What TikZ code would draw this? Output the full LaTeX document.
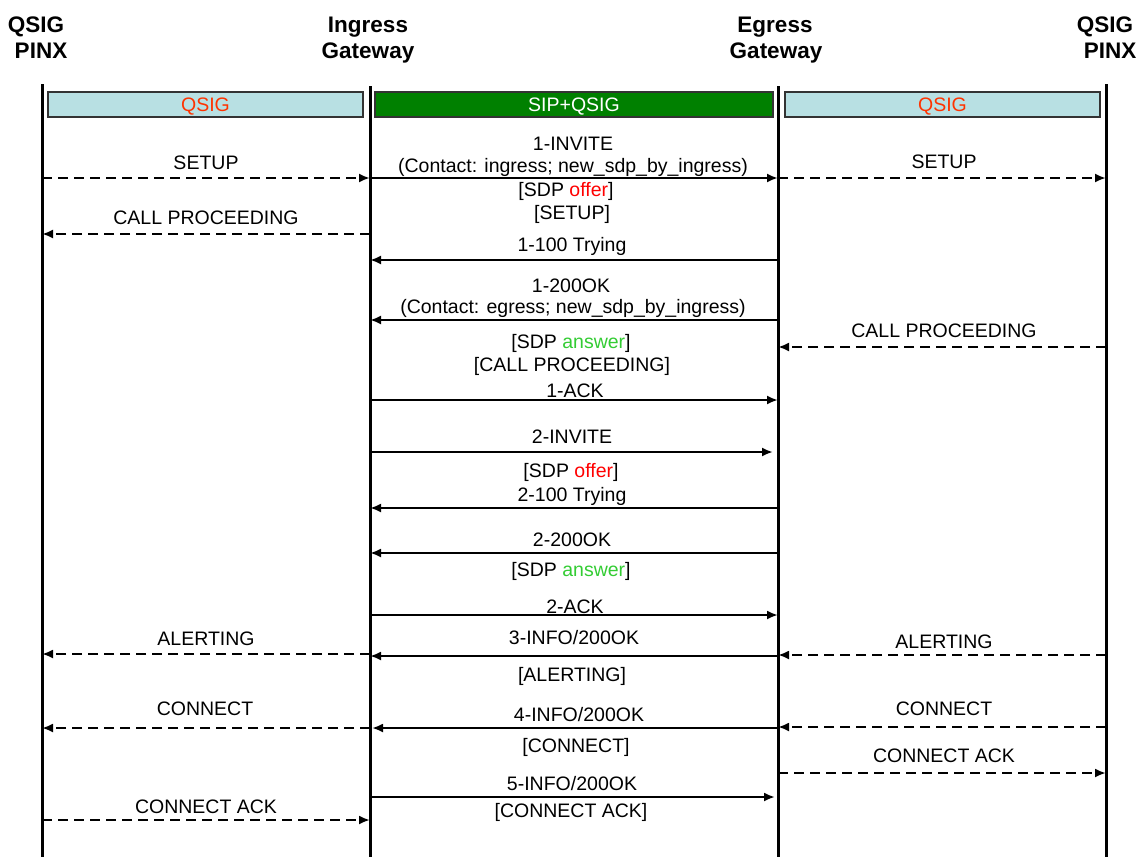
\documentclass[tikz,border=0pt]{standalone}
\usepackage{fontspec}
\setmainfont{Liberation Sans}
\usetikzlibrary{arrows.meta}
\definecolor{qsigbox}{HTML}{B8E0E3}
\definecolor{qsigtxt}{HTML}{FF3300}
\definecolor{sipbox}{HTML}{008000}
\definecolor{offer}{HTML}{FF0000}
\definecolor{answer}{HTML}{33CC33}
\tikzset{
  life/.style={line width=3pt},
  msg/.style={line width=2.6pt,-{Latex[length=11pt,width=9pt]}},
  sig/.style={msg,dash pattern=on 10pt off 6pt},
  lbl/.style={font=\fontsize{19.5}{23}\selectfont,inner sep=0pt,anchor=base},
  head/.style={font=\fontsize{22.5}{26}\selectfont\bfseries,inner sep=0pt,anchor=base},
  band/.style={draw=black!80,line width=1.4pt,minimum height=25pt,inner sep=0pt,text height=14pt,text depth=0pt,font=\fontsize{19.5}{23}\selectfont}
}
\begin{document}
\begin{tikzpicture}[x=1pt,y=-1pt]
\useasboundingbox (0,0) rectangle (1140,857);
\node[head] (pinxLa) at (36,32) {QSIG};
\node[head] (pinxLb) at (41,58) {PINX};
\node[head] (ingwa) at (368,32) {Ingress};
\node[head] (ingwb) at (368,58) {Gateway};
\node[head] (egwa) at (775,32) {Egress};
\node[head] (egwb) at (776,58) {Gateway};
\node[head] (pinxRa) at (1105,32) {QSIG};
\node[head] (pinxRb) at (1110,58) {PINX};
\coordinate (pinxL) at (42,84);
\coordinate (ingw) at (370,86);
\coordinate (egw) at (778,86);
\coordinate (pinxR) at (1106,84);
\draw[life] (pinxL) -- (pinxL |- 0,857);
\draw[life] (ingw) -- (ingw |- 0,857);
\draw[life] (egw) -- (egw |- 0,857);
\draw[life] (pinxR) -- (pinxR |- 0,857);
\node[band,fill=qsigbox,text=qsigtxt,minimum width=315pt] (bandL) at (205.5,104.5) {QSIG};
\node[band,fill=sipbox,text=white,minimum width=398pt] (bandM) at (574,104.5) {SIP+QSIG};
\node[band,fill=qsigbox,text=qsigtxt,minimum width=315pt] (bandR) at (942.5,104.5) {QSIG};
\node[lbl] (setupL) at (206,169) {SETUP};
\draw[sig] (pinxL |- 0,178) -- (ingw |- 0,178);
\node[lbl] (invA) at (573,150) {1-INVITE};
\node[lbl] (invB) at (573,172) {(Contact: ingress; new\_sdp\_by\_ingress)};
\node[lbl] (invC) at (566,196) {[SDP \textcolor{offer}{offer}]};
\node[lbl] (invD) at (572,219) {[SETUP]};
\draw[msg] (ingw |- 0,178) -- (egw |- 0,178);
\node[lbl] (setupR) at (944,168) {SETUP};
\draw[sig] (egw |- 0,178) -- (pinxR |- 0,178);
\node[lbl] (procL) at (206,224) {CALL PROCEEDING};
\draw[sig] (ingw |- 0,234) -- (pinxL |- 0,234);
\node[lbl] (tryA) at (572,251) {1-100 Trying};
\draw[msg] (egw |- 0,260) -- (ingw |- 0,260);
\node[lbl] (okA) at (571,292) {1-200OK};
\node[lbl] (okB) at (573,313) {(Contact: egress; new\_sdp\_by\_ingress)};
\node[lbl] (okC) at (571,348) {[SDP \textcolor{answer}{answer}]};
\node[lbl] (okD) at (572,371) {[CALL PROCEEDING]};
\draw[msg] (egw |- 0,320) -- (ingw |- 0,320);
\node[lbl] (procR) at (944,337) {CALL PROCEEDING};
\draw[sig] (pinxR |- 0,347) -- (egw |- 0,347);
\node[lbl] (ackA) at (575,397) {1-ACK};
\draw[msg] (ingw |- 0,400) -- (egw |- 0,400);
\node[lbl] (invE) at (572,443) {2-INVITE};
\node[lbl] (invF) at (571,477) {[SDP \textcolor{offer}{offer}]};
\draw[msg,shorten >=5pt] (ingw |- 0,452) -- (egw |- 0,452);
\node[lbl] (tryB) at (572,501) {2-100 Trying};
\draw[msg] (egw |- 0,508) -- (ingw |- 0,508);
\node[lbl] (okE) at (572,546) {2-200OK};
\node[lbl] (okF) at (571,576) {[SDP \textcolor{answer}{answer}]};
\draw[msg] (egw |- 0,553) -- (ingw |- 0,553);
\node[lbl] (ackB) at (575,613) {2-ACK};
\draw[msg] (ingw |- 0,615) -- (egw |- 0,615);
\node[lbl] (alertL) at (206,645) {ALERTING};
\draw[sig] (ingw |- 0,654) -- (pinxL |- 0,654);
\node[lbl] (infoA) at (574,644) {3-INFO/200OK};
\node[lbl] (infoB) at (572,681) {[ALERTING]};
\draw[msg] (egw |- 0,656) -- (ingw |- 0,656);
\node[lbl] (alertR) at (944,648) {ALERTING};
\draw[sig] (pinxR |- 0,655) -- (egw |- 0,655);
\node[lbl] (connL) at (205,715) {CONNECT};
\draw[sig] (ingw |- 0,728) -- (pinxL |- 0,728);
\node[lbl] (infoC) at (579,721) {4-INFO/200OK};
\node[lbl] (infoD) at (576,752) {[CONNECT]};
\draw[msg,shorten >=2pt] (egw |- 0,728) -- (ingw |- 0,728);
\node[lbl] (connR) at (944,715) {CONNECT};
\draw[sig] (pinxR |- 0,727) -- (egw |- 0,727);
\node[lbl] (cackR) at (944,762) {CONNECT ACK};
\draw[sig] (egw |- 0,773) -- (pinxR |- 0,773);
\node[lbl] (infoE) at (572,790) {5-INFO/200OK};
\node[lbl] (infoF) at (571,817) {[CONNECT ACK]};
\draw[msg,shorten >=3pt] (ingw |- 0,797) -- (egw |- 0,797);
\node[lbl] (cackL) at (206,813) {CONNECT ACK};
\draw[sig] (pinxL |- 0,820) -- (ingw |- 0,820);
\end{tikzpicture}
\end{document}
